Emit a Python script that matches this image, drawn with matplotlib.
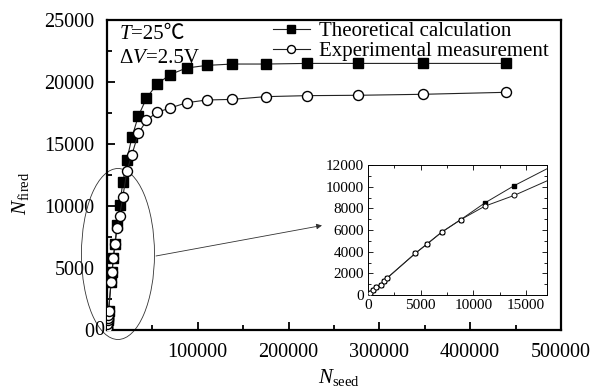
import numpy as np
import matplotlib
matplotlib.use('Agg')
import matplotlib.pyplot as plt
from matplotlib.patches import Ellipse
from matplotlib.ticker import MultipleLocator

plt.rcParams['font.family'] = ['Liberation Serif', 'DejaVu Serif']
plt.rcParams['mathtext.fontset'] = 'custom'
plt.rcParams['mathtext.rm'] = 'Liberation Serif'
plt.rcParams['mathtext.it'] = 'Liberation Serif:italic'

# number of seeds (shared by both series)
n_seed = [0, 200, 500, 800, 1200, 1500, 1800, 4500, 5600, 7000, 8800, 11100,
          13900, 17500, 22000, 27500, 34500, 43500, 54700, 69400, 87700,
          109800, 138000, 174700, 219900, 276800, 348400, 439400]
# theoretical calculation
n_theory = [0, 150, 460, 770, 950, 1250, 1550, 3850, 4700, 5800, 6950, 8500,
            10100, 11900, 13750, 15550, 17250, 18700, 19800, 20600, 21130,
            21340, 21450, 21450, 21500, 21500, 21500, 21500]
# experimental measurement
n_exp = [0, 150, 460, 770, 950, 1250, 1550, 3850, 4700, 5800, 6950, 8200,
         9200, 10750, 12850, 14150, 15850, 16900, 17550, 17900, 18330,
         18550, 18600, 18820, 18900, 18930, 19010, 19170]

fig = plt.figure(figsize=(5.96, 3.91), dpi=100)
ax = fig.add_axes([0.1795, 0.156, 0.7617, 0.7928])

lc = '#222222'
ax.plot(n_seed, n_theory, '-s', color=lc, lw=0.8, ms=7, mfc='black', mec='black',
        label='Theoretical calculation', zorder=3)
ax.plot(n_seed, n_exp, '-o', color=lc, lw=0.8, ms=7.2, mfc='white', mec='black',
        mew=1.0, label='Experimental measurement', zorder=4)

ax.set_xlim(0, 500000)
ax.set_ylim(0, 25000)
ax.xaxis.set_major_locator(MultipleLocator(100000))
ax.xaxis.set_minor_locator(MultipleLocator(50000))
ax.yaxis.set_major_locator(MultipleLocator(5000))
ax.yaxis.set_minor_locator(MultipleLocator(2500))
ax.set_xticks([100000, 200000, 300000, 400000, 500000])
ax.tick_params(which='both', direction='in', width=1.3, labelsize=14.5)
ax.tick_params(which='major', length=6)
ax.tick_params(which='minor', length=3.5)
ax.tick_params(axis='x', pad=9)
ax.tick_params(axis='y', pad=9)
for s in ax.spines.values():
    s.set_linewidth(1.6)

ax.set_xlabel(r'$N_{\rm seed}$', fontsize=15)
ax.set_ylabel(r'$N_{\rm fired}$', fontsize=15)
ax.xaxis.set_label_coords(0.51, -0.12)
ax.yaxis.set_label_coords(-0.168, 0.44)

# extra zero at the origin
ax.text(-8300, 0, '0', fontsize=14.5, ha='center', va='center', clip_on=False)

# condition labels
t1 = ax.text(0.028, 0.985, 'T', style='italic', transform=ax.transAxes,
             fontsize=15, ha='left', va='top')
ax.annotate('=25℃', xy=(1, 0), xycoords=t1, ha='left', va='bottom', fontsize=15,
            family=['Liberation Serif', 'Noto Sans CJK SC', 'DejaVu Sans'])
t2 = ax.text(0.028, 0.905, 'Δ', transform=ax.transAxes, fontsize=15,
             ha='left', va='top')
t3 = ax.annotate('V', xy=(1, 0), xycoords=t2, ha='left', va='bottom',
                 fontsize=15, style='italic')
ax.annotate('=2.5V', xy=(1, 0), xycoords=t3, ha='left', va='bottom', fontsize=15)

ax.legend(loc='upper left', bbox_to_anchor=(0.365, 0.996), frameon=False,
          fontsize=15, handlelength=1.8, handletextpad=0.4, labelspacing=0.05,
          borderpad=0, borderaxespad=0, markerscale=0.8)

# ellipse marking the zoomed region and arrow to inset
ell = Ellipse((12100, 6130), 80400, 13790, fill=False, ec='#333333', lw=0.6,
              clip_on=False, zorder=2)
ax.add_patch(ell)
ax.annotate('', xy=(236800, 8430), xytext=(53960, 5970),
            arrowprops=dict(arrowstyle='-|>', color='#333333', lw=0.6,
                            mutation_scale=8, shrinkA=0, shrinkB=0))

# inset
axi = fig.add_axes([0.6174, 0.2455, 0.3003, 0.3325])
axi.plot(n_seed, n_theory, '-s', color=lc, lw=0.7, ms=3.3, mfc='black', mec='black',
         zorder=3)
axi.plot(n_seed, n_exp, '-o', color=lc, lw=0.7, ms=3.6, mfc='white', mec='black',
         mew=0.7, zorder=4)
axi.set_xlim(0, 17000)
axi.set_ylim(0, 12000)
axi.xaxis.set_major_locator(MultipleLocator(5000))
axi.xaxis.set_minor_locator(MultipleLocator(2500))
axi.yaxis.set_major_locator(MultipleLocator(2000))
axi.yaxis.set_minor_locator(MultipleLocator(1000))
axi.tick_params(which='both', direction='in', top=True, right=True, width=0.6,
                labelsize=11, pad=3)
axi.tick_params(which='major', length=3.5)
axi.tick_params(which='minor', length=2)
for s in axi.spines.values():
    s.set_linewidth(0.7)

fig.savefig('out.png', dpi=100)
